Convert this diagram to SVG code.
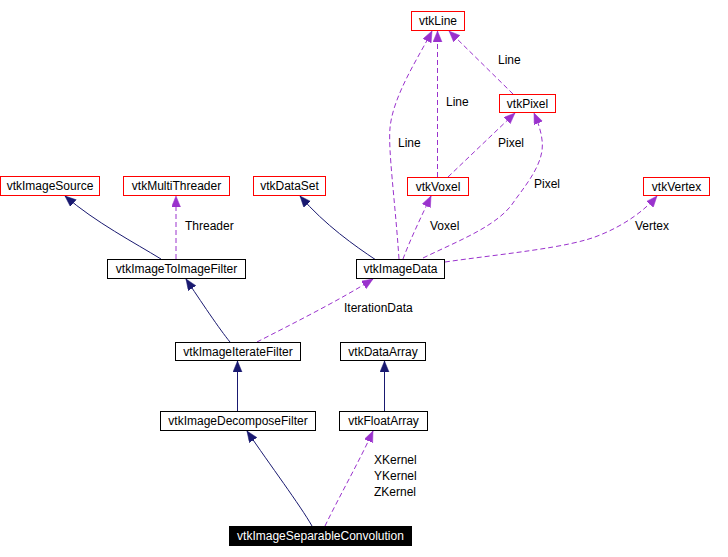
<svg xmlns="http://www.w3.org/2000/svg" width="728" height="557" viewBox="0 0 728 557">
<style>
  text { font-family: "Liberation Sans", Arial, sans-serif; font-size: 12px; fill: #000; }
  .n text { text-anchor: middle; }
  .red { fill: #fff; stroke: #ff0000; stroke-width: 1; }
  .blk { fill: #fff; stroke: #000; stroke-width: 1; }
  .sel { fill: #000; stroke: #000; stroke-width: 1; }
  .sel + text { fill: #fff; }
  .inh { fill: none; stroke: #191970; stroke-width: 1; marker-end: url(#an); }
  .use { fill: none; stroke: #9a32cd; stroke-width: 1; stroke-dasharray: 5,3; marker-end: url(#ap); }
  .lbl { fill: #000; }
</style>
<defs>
  <marker id="an" markerUnits="userSpaceOnUse" markerWidth="12" markerHeight="10" refX="11" refY="4.5" orient="auto">
    <path d="M0,0 L11,4.5 L0,9 z" fill="#191970" stroke="#191970" stroke-width="0.5"/>
  </marker>
  <marker id="ap" markerUnits="userSpaceOnUse" markerWidth="12" markerHeight="10" refX="11" refY="4.5" orient="auto">
    <path d="M0,0 L11,4.5 L0,9 z" fill="#9a32cd" stroke="#9a32cd" stroke-width="0.5"/>
  </marker>
</defs>
<rect width="728" height="557" fill="#fff"/>
<g id="edges">
  <path class="inh" d="M161,259 C135,243 95,222 65,196"/>
  <path class="use" d="M176,259 L176,196"/>
  <path class="inh" d="M376,260 C355,246 325,225 300,196"/>
  <path class="use" d="M399,259 C395,200 388,150 390,128 C393,95 420,55 432,31"/>
  <path class="use" d="M437.5,177 L437.5,31"/>
  <path class="use" d="M513,94 L449,31"/>
  <path class="use" d="M448,177 L515,113"/>
  <path class="use" d="M423,258 C460,240 500,225 515,200 C530,180 545,160 542,140 C541,130 537,120 534,113"/>
  <path class="use" d="M445,262 C500,254 570,248 600,235 C625,225 645,210 657,196"/>
  <path class="use" d="M403,259 C410,240 422,215 431,196"/>
  <path class="inh" d="M230,342 C220,330 200,300 186,279"/>
  <path class="use" d="M257,342 C290,325 340,300 373,279"/>
  <path class="inh" d="M237.5,411 L237.5,361"/>
  <path class="inh" d="M384.5,411 L384.5,361"/>
  <path class="inh" d="M312,526 C300,505 270,465 247,431"/>
  <path class="use" d="M325,526 C340,495 360,460 373,431"/>
  <text x="185" y="230">Threader</text>
  <text x="398" y="147">Line</text>
  <text x="446" y="106">Line</text>
  <text x="498" y="64">Line</text>
  <text x="498" y="147">Pixel</text>
  <text x="534" y="188">Pixel</text>
  <text x="430" y="230">Voxel</text>
  <text x="635" y="230">Vertex</text>
  <text x="344" y="312">IterationData</text>
  <text x="374" y="464">XKernel</text>
  <text x="374" y="480">YKernel</text>
  <text x="374" y="496">ZKernel</text>
</g>
<g id="vtkLine" class="n"><rect class="red" x="411.5" y="11.5" width="53" height="19"/><text x="438" y="25">vtkLine</text></g>
<g id="vtkPixel" class="n"><rect class="red" x="499.5" y="94.5" width="56" height="18"/><text x="527.5" y="108">vtkPixel</text></g>
<g id="vtkVoxel" class="n"><rect class="red" x="407.5" y="177.5" width="61" height="18"/><text x="438" y="191">vtkVoxel</text></g>
<g id="vtkVertex" class="n"><rect class="red" x="643.5" y="177.5" width="66" height="18"/><text x="676.5" y="191">vtkVertex</text></g>
<g id="vtkImageSource" class="n"><rect class="red" x="0.5" y="176.5" width="99" height="19"/><text x="50" y="190">vtkImageSource</text></g>
<g id="vtkMultiThreader" class="n"><rect class="red" x="123.5" y="176.5" width="106" height="19"/><text x="176.5" y="190">vtkMultiThreader</text></g>
<g id="vtkDataSet" class="n"><rect class="red" x="253.5" y="176.5" width="72" height="19"/><text x="289.5" y="190">vtkDataSet</text></g>
<g id="vtkImageToImageFilter" class="n"><rect class="blk" x="107.5" y="259.5" width="138" height="19"/><text x="176.5" y="273">vtkImageToImageFilter</text></g>
<g id="vtkImageData" class="n"><rect class="blk" x="356.5" y="259.5" width="88" height="19"/><text x="400.5" y="273">vtkImageData</text></g>
<g id="vtkImageIterateFilter" class="n"><rect class="blk" x="175.5" y="342.5" width="125" height="18"/><text x="238" y="356">vtkImageIterateFilter</text></g>
<g id="vtkDataArray" class="n"><rect class="blk" x="340.5" y="342.5" width="85" height="18"/><text x="383" y="356">vtkDataArray</text></g>
<g id="vtkImageDecomposeFilter" class="n"><rect class="blk" x="160.5" y="411.5" width="155" height="19"/><text x="238" y="425">vtkImageDecomposeFilter</text></g>
<g id="vtkFloatArray" class="n"><rect class="blk" x="339.5" y="411.5" width="88" height="19"/><text x="383.5" y="425">vtkFloatArray</text></g>
<g id="vtkImageSeparableConvolution" class="n"><rect class="sel" x="229.5" y="526.5" width="182" height="19"/><text x="320.5" y="540" style="fill:#fff">vtkImageSeparableConvolution</text></g>
</svg>
